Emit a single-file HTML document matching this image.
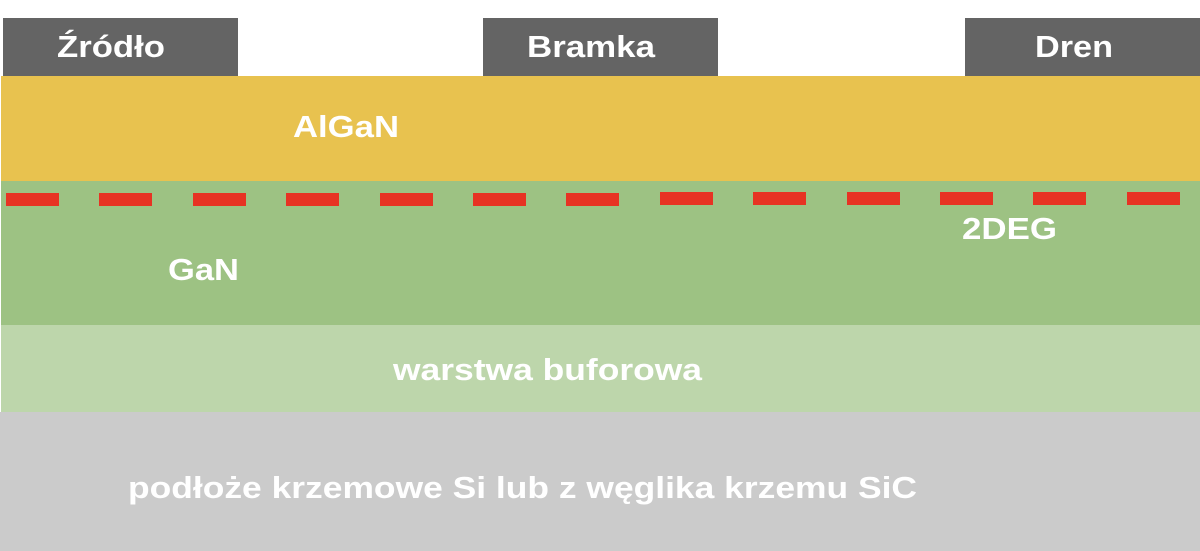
<!DOCTYPE html>
<html><head><meta charset="utf-8"><style>html,body{margin:0;padding:0;background:#fff}svg{display:block}</style></head>
<body>
<svg width="1200" height="551" viewBox="0 0 1200 551" xmlns="http://www.w3.org/2000/svg" font-family="Liberation Sans, sans-serif" font-weight="bold" font-size="31" fill="#fff">
<rect x="0" y="0" width="1200" height="551" fill="#fff"/>
<rect x="3" y="18" width="235" height="58" fill="#646464"/>
<rect x="483" y="18" width="235" height="58" fill="#646464"/>
<rect x="965" y="18" width="235" height="58" fill="#646464"/>
<rect x="1" y="76" width="1199" height="105" fill="#e8c24f"/>
<rect x="1" y="181" width="1199" height="144" fill="#9dc283"/>
<rect x="1" y="325" width="1199" height="87" fill="#bdd6ab"/>
<rect x="0" y="412" width="1200" height="139" fill="#cbcbcb"/>
<g fill="#e73323">
<rect x="6" y="193" width="53" height="13"/><rect x="99" y="193" width="53" height="13"/><rect x="193" y="193" width="53" height="13"/><rect x="286" y="193" width="53" height="13"/><rect x="380" y="193" width="53" height="13"/><rect x="473" y="193" width="53" height="13"/><rect x="566" y="193" width="53" height="13"/><rect x="660" y="192" width="53" height="13"/><rect x="753" y="192" width="53" height="13"/><rect x="847" y="192" width="53" height="13"/><rect x="940" y="192" width="53" height="13"/><rect x="1033" y="192" width="53" height="13"/><rect x="1127" y="192" width="53" height="13"/>
</g>
<text x="57" y="57" textLength="108" lengthAdjust="spacingAndGlyphs">Źródło</text>
<text x="527" y="57" textLength="128" lengthAdjust="spacingAndGlyphs">Bramka</text>
<text x="1035" y="57" textLength="78" lengthAdjust="spacingAndGlyphs">Dren</text>
<text x="293" y="137" textLength="106" lengthAdjust="spacingAndGlyphs">AlGaN</text>
<text x="962" y="239" textLength="95" lengthAdjust="spacingAndGlyphs">2DEG</text>
<text x="168" y="280" textLength="71" lengthAdjust="spacingAndGlyphs">GaN</text>
<text x="393" y="380" textLength="309" lengthAdjust="spacingAndGlyphs">warstwa buforowa</text>
<text x="128" y="498" textLength="789" lengthAdjust="spacingAndGlyphs">podłoże krzemowe Si lub z węglika krzemu SiC</text>
</svg>
</body></html>
